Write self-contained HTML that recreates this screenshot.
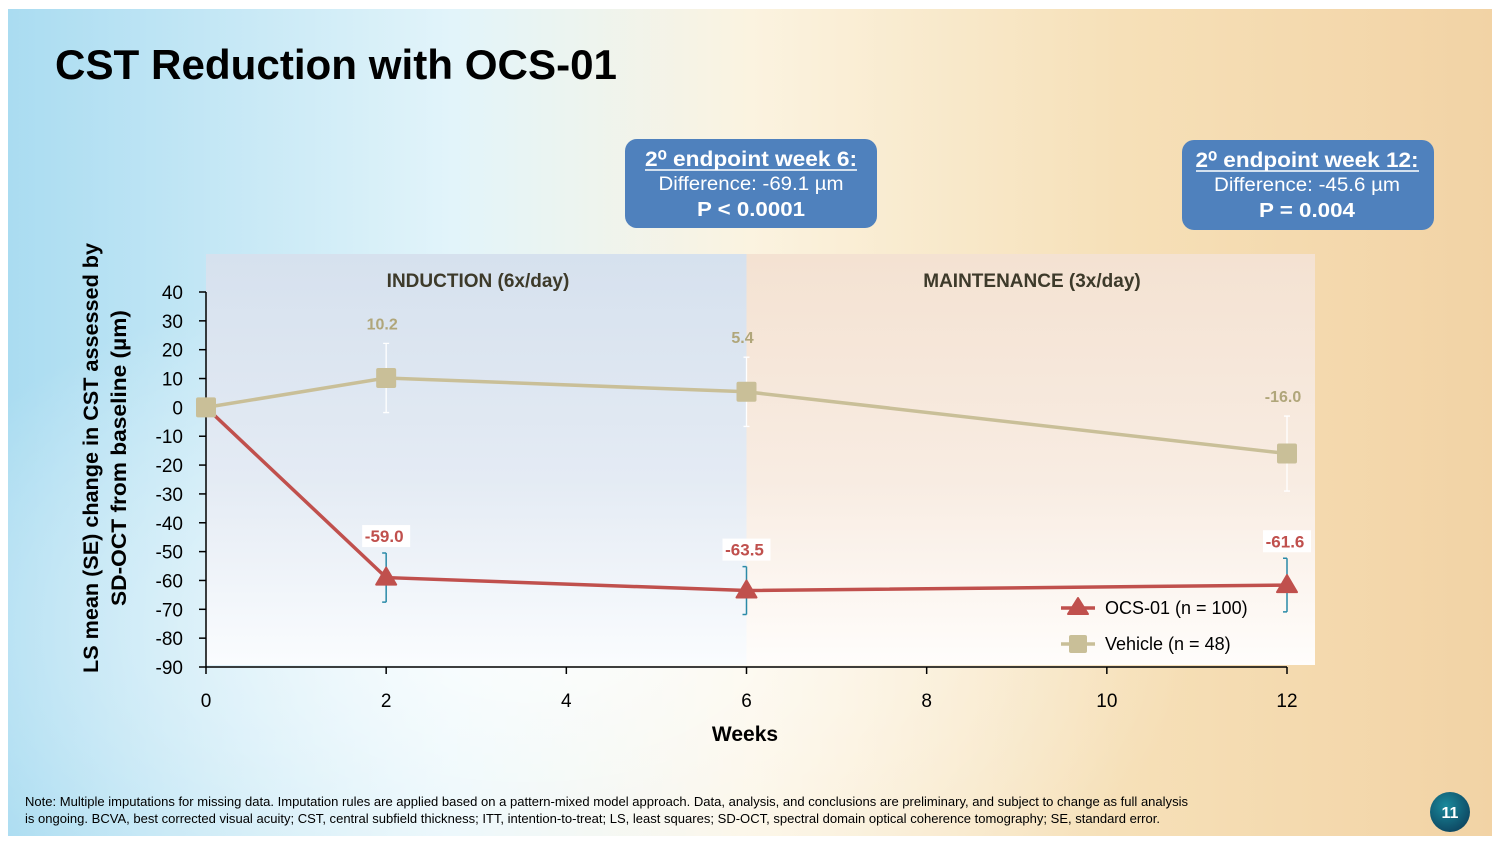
<!DOCTYPE html>
<html><head><meta charset="utf-8"><style>
html,body{margin:0;padding:0;background:#fff;}
svg{display:block;font-family:"Liberation Sans",sans-serif;}
</style></head><body>
<svg id="chart" width="1500" height="844" viewBox="0 0 1500 844" xmlns="http://www.w3.org/2000/svg">
<defs>
<linearGradient id="bg" x1="0" y1="0" x2="1" y2="0">
<stop offset="0" stop-color="#aadcf1"/><stop offset="0.3" stop-color="#e2f4fa"/>
<stop offset="0.5" stop-color="#fbf3e0"/><stop offset="0.75" stop-color="#f6e0b8"/><stop offset="1" stop-color="#f2d3a5"/>
</linearGradient>
<radialGradient id="glow" cx="0.35" cy="0.75" r="0.45"><stop offset="0" stop-color="#fff" stop-opacity="0.85"/><stop offset="1" stop-color="#fff" stop-opacity="0"/></radialGradient>
<linearGradient id="ind" x1="0" y1="0" x2="0" y2="1"><stop offset="0" stop-color="#d6e1ee"/><stop offset="0.55" stop-color="#e4ebf4"/><stop offset="1" stop-color="#fafcfe"/></linearGradient>
<linearGradient id="mnt" x1="0" y1="0" x2="0" y2="1"><stop offset="0" stop-color="#f4e2d2"/><stop offset="0.55" stop-color="#f8ece2"/><stop offset="1" stop-color="#fffdfb"/></linearGradient>
<radialGradient id="badge" cx="0.4" cy="0.35" r="0.7"><stop offset="0" stop-color="#1a8a9c"/><stop offset="1" stop-color="#0d4560"/></radialGradient>
</defs>
<rect x="8" y="9" width="1484" height="827" fill="url(#bg)"/>
<rect x="8" y="9" width="1484" height="827" fill="url(#glow)"/>
<text x="55" y="79" font-size="42" font-weight="bold" fill="#000" textLength="562" lengthAdjust="spacingAndGlyphs">CST Reduction with OCS-01</text>

<g>
<rect x="625" y="139" width="252" height="89" rx="12" fill="#4f81bd"/>
<text x="751" y="166" font-size="21" font-weight="bold" fill="#fff" text-anchor="middle" textLength="212" lengthAdjust="spacingAndGlyphs">2⁰ endpoint week 6:</text>
<line x1="645" y1="170" x2="857" y2="170" stroke="#fff" stroke-width="1.5"/>
<text x="751" y="190" font-size="19" fill="#fff" text-anchor="middle" textLength="185" lengthAdjust="spacingAndGlyphs">Difference: -69.1 µm</text>
<text x="751" y="216" font-size="20" font-weight="bold" fill="#fff" text-anchor="middle" textLength="108" lengthAdjust="spacingAndGlyphs">P &lt; 0.0001</text>
</g>
<g>
<rect x="1182" y="140" width="252" height="90" rx="12" fill="#4f81bd"/>
<text x="1307" y="167" font-size="21" font-weight="bold" fill="#fff" text-anchor="middle" textLength="223" lengthAdjust="spacingAndGlyphs">2⁰ endpoint week 12:</text>
<line x1="1196" y1="171" x2="1419" y2="171" stroke="#fff" stroke-width="1.5"/>
<text x="1307" y="191" font-size="19" fill="#fff" text-anchor="middle" textLength="186" lengthAdjust="spacingAndGlyphs">Difference: -45.6 µm</text>
<text x="1307" y="217" font-size="20" font-weight="bold" fill="#fff" text-anchor="middle" textLength="96" lengthAdjust="spacingAndGlyphs">P = 0.004</text>
</g>

<g id="plot"></g>

<text transform="translate(98,458) rotate(-90)" font-size="21" font-weight="bold" fill="#000" text-anchor="middle" textLength="430" lengthAdjust="spacingAndGlyphs">LS mean (SE) change in CST assessed by</text>
<text transform="translate(126,458) rotate(-90)" font-size="21" font-weight="bold" fill="#000" text-anchor="middle" textLength="296" lengthAdjust="spacingAndGlyphs">SD-OCT  from baseline (µm)</text>
<text x="745" y="741" font-size="21" font-weight="bold" fill="#000" text-anchor="middle">Weeks</text>

<text x="25" y="806" font-size="12.5" fill="#000" textLength="1163" lengthAdjust="spacingAndGlyphs">Note: Multiple imputations for missing data. Imputation rules are applied based on a pattern-mixed model approach. Data, analysis, and conclusions are preliminary, and subject to change as full analysis</text>
<text x="25" y="823" font-size="12.5" fill="#000" textLength="1135" lengthAdjust="spacingAndGlyphs">is ongoing. BCVA, best corrected visual acuity; CST, central subfield thickness; ITT, intention-to-treat; LS, least squares; SD-OCT, spectral domain optical coherence tomography; SE, standard error.</text>
<circle cx="1450" cy="812" r="20" fill="url(#badge)"/>
<text x="1450" y="818" font-size="16" font-weight="bold" fill="#fff" text-anchor="middle">11</text>
</svg>
<script>
const weeks = [0, 2, 6, 12];
const vehicleValues = [0, 10.2, 5.4, -16.0];
const vehicleSE = [0, 12, 12, 13];
const ocsValues = [0, -59.0, -63.5, -61.6];
const ocsSE = [0, 8.5, 8.3, 9.3];
const yTicks = [40, 30, 20, 10, 0, -10, -20, -30, -40, -50, -60, -70, -80, -90];
const xTicks = [0, 2, 4, 6, 8, 10, 12];
const vehicleLabels = ["", "10.2", "5.4", "-16.0"];
const ocsLabels = ["", "-59.0", "-63.5", "-61.6"];

const NS = "http://www.w3.org/2000/svg";
const g = document.getElementById('plot');
function X(w){ return 206 + w * (1287 - 206) / 12; }
function Y(v){ return 292 + (40 - v) * (667 - 292) / 130; }
function mk(tag, attrs, parent){ const e = document.createElementNS(NS, tag); for (const k in attrs) e.setAttribute(k, attrs[k]); (parent||g).appendChild(e); return e; }

let r = mk('rect', {x: X(0), y: 254, width: X(6) - X(0), height: 411, fill: 'url(#ind)'});


r = mk('rect', {x: X(6), y: 254, width: 1315 - X(6), height: 411, fill: 'url(#mnt)'});


let t = mk('text', {x: 478, y: 287, 'font-size': 19, 'font-weight': 'bold', fill: '#3d3a2a', 'text-anchor': 'middle'});
t.textContent = 'INDUCTION (6x/day)';


t = mk('text', {x: 1032, y: 287, 'font-size': 19, 'font-weight': 'bold', fill: '#3d3a2a', 'text-anchor': 'middle'});
t.textContent = 'MAINTENANCE (3x/day)';



let ax = mk('line', {x1: X(0), y1: Y(40), x2: X(0), y2: Y(-90), stroke: '#000', 'stroke-width': 1.5});


ax = mk('line', {x1: X(0), y1: Y(-90), x2: X(12), y2: Y(-90), stroke: '#000', 'stroke-width': 1.5});


yTicks.forEach(v => {
  mk('line', {x1: X(0) - 7, y1: Y(v), x2: X(0), y2: Y(v), stroke: '#000', 'stroke-width': 1.5});
  const tl = mk('text', {x: 183, y: Y(v) + 7, 'font-size': 19, fill: '#000', 'text-anchor': 'end'});
  tl.textContent = String(v);
  
  
});
xTicks.forEach(w => {
  mk('line', {x1: X(w), y1: Y(-90), x2: X(w), y2: Y(-90) + 7, stroke: '#000', 'stroke-width': 1.5});
  const tl = mk('text', {x: X(w), y: 707, 'font-size': 19, fill: '#000', 'text-anchor': 'middle'});
  tl.textContent = String(w);
  
  
});

let vl = mk('polyline', {points: weeks.map((w,i) => X(w) + ',' + Y(vehicleValues[i])).join(' '), fill: 'none', stroke: '#c9bf98', 'stroke-width': 3.5});


let ol = mk('polyline', {points: weeks.map((w,i) => X(w) + ',' + Y(ocsValues[i])).join(' '), fill: 'none', stroke: '#c0504d', 'stroke-width': 3.5});



weeks.forEach((w,i) => {
  if (vehicleSE[i] > 0) {
    const x = X(w), a = Y(vehicleValues[i] + vehicleSE[i]), b = Y(vehicleValues[i] - vehicleSE[i]);
    const e = mk('path', {d: `M${x},${a}V${b}M${x-3},${a}H${x+3}M${x-3},${b}H${x+3}`, stroke: '#ffffff', 'stroke-width': 1.3, fill: 'none'});
    
    
  }
  if (ocsSE[i] > 0) {
    const x = X(w), a = Y(ocsValues[i] + ocsSE[i]), b = Y(ocsValues[i] - ocsSE[i]);
    const e = mk('path', {d: `M${x},${a}V${b}M${x-4},${a}H${x}M${x-4},${b}H${x}`, stroke: '#2a8aa8', 'stroke-width': 1.5, fill: 'none'});
    
    
  }
});

weeks.forEach((w,i) => {
  const x = X(w), y = Y(ocsValues[i]);
  if (i > 0) {
    const m = mk('path', {d: `M${x},${y-10}L${x+10},${y+7}L${x-10},${y+7}Z`, fill: '#c0504d', stroke: '#c0504d', 'stroke-width': 2, 'stroke-linejoin': 'round'});
    
    
  }
});
weeks.forEach((w,i) => {
  const x = X(w), y = Y(vehicleValues[i]);
  const m = mk('rect', {x: x-10, y: y-10, width: 20, height: 20, rx: 2, fill: '#c9bf98'});
  
  
});

weeks.forEach((w,i) => {
  if (vehicleLabels[i]) {
    const l = mk('text', {x: X(w) - 4, y: Y(vehicleValues[i] + vehicleSE[i]) - 14, 'font-size': 16, 'font-weight': 'bold', fill: '#b0a67a', 'text-anchor': 'middle'});
    l.textContent = vehicleLabels[i];
    
    
  }
  if (ocsLabels[i]) {
    const cy = Y(ocsValues[i] + ocsSE[i]) - 14;
    mk('rect', {x: X(w) - 24, y: cy - 14, width: 48, height: 22, fill: '#ffffff'});
    const l = mk('text', {x: X(w) - 2, y: cy + 3, 'font-size': 17, 'font-weight': 'bold', fill: '#c0504d', 'text-anchor': 'middle'});
    l.textContent = ocsLabels[i];
    
    
  }
});

const lg = mk('g', {});


mk('line', {x1: 1061, y1: 608, x2: 1095, y2: 608, stroke: '#c0504d', 'stroke-width': 3.5}, lg);
mk('path', {d: 'M1078,598L1088,614L1068,614Z', fill: '#c0504d', stroke: '#c0504d', 'stroke-width': 2, 'stroke-linejoin': 'round'}, lg);
let le = mk('text', {x: 1105, y: 614, 'font-size': 18, fill: '#000'}, lg);
le.textContent = 'OCS-01 (n = 100)';


mk('line', {x1: 1061, y1: 644, x2: 1095, y2: 644, stroke: '#c9bf98', 'stroke-width': 3.5}, lg);
mk('rect', {x: 1069, y: 635, width: 18, height: 18, rx: 2, fill: '#c9bf98'}, lg);
le = mk('text', {x: 1105, y: 650, 'font-size': 18, fill: '#000'}, lg);
le.textContent = 'Vehicle (n = 48)';


</script>
</body></html>
